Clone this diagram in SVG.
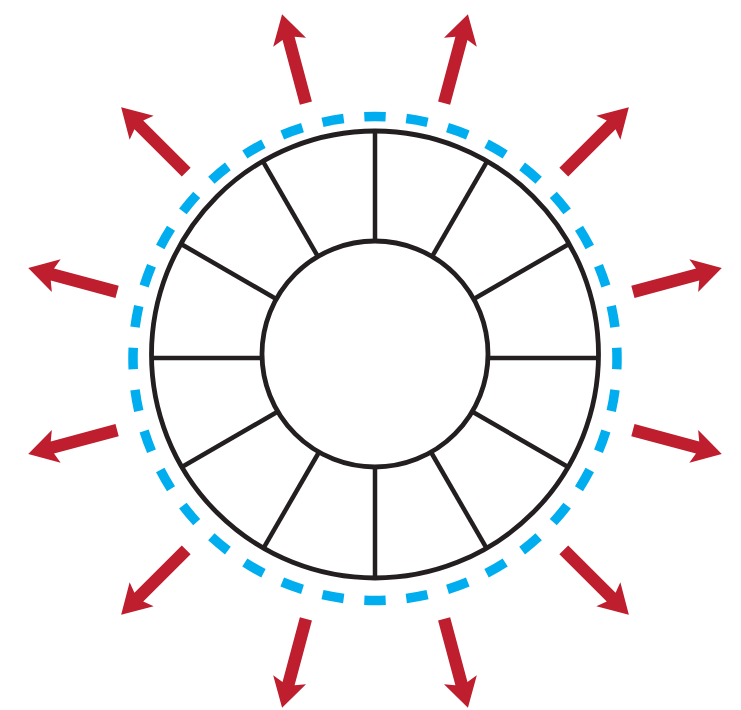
<svg xmlns="http://www.w3.org/2000/svg" xmlns:xlink="http://www.w3.org/1999/xlink" width="741" height="710" viewBox="0 0 741 710">
  <style>
    .ring { fill: none; stroke: #231F20; stroke-width: 4.8; }
    .spoke { stroke: #231F20; stroke-width: 4.5; stroke-linecap: butt; }
    .dash { fill: none; stroke: #00AEEF; stroke-width: 9.5; stroke-dasharray: 5.1 4.9; stroke-dashoffset: 2.55; }
    .arrow { fill: #BE1E2D; }
  </style>
  <defs>
    <path id="arr" class="arrow" d="M0,-6.25 H67 L63,-17 L92,0 L63,17 L67,6.25 H0 Z"/>
  </defs>
  <rect width="741" height="710" fill="#ffffff"/>

  <g id="boundary">
    <circle class="dash" cx="375" cy="358.5" r="242" pathLength="360"/>
  </g>

  <g id="wheel">
    <circle class="ring" cx="375" cy="354.5" r="223.5"/>
    <circle class="ring" cx="375" cy="354" r="113"/>
    <g id="spokes">
      <line class="spoke" x1="375" y1="242" x2="375" y2="132"/>
      <line class="spoke" x1="431.5" y1="257.6" x2="486.5" y2="162.4"/>
      <line class="spoke" x1="472.9" y1="299.5" x2="568.1" y2="244.5"/>
      <line class="spoke" x1="488" y1="358" x2="598" y2="358"/>
      <line class="spoke" x1="472.9" y1="412" x2="568.1" y2="467"/>
      <line class="spoke" x1="431.5" y1="453" x2="486.5" y2="548.2"/>
      <line class="spoke" x1="375" y1="467" x2="375" y2="577"/>
      <line class="spoke" x1="318.5" y1="453" x2="263.5" y2="548.2"/>
      <line class="spoke" x1="277.1" y1="412" x2="181.9" y2="467"/>
      <line class="spoke" x1="262" y1="358" x2="152" y2="358"/>
      <line class="spoke" x1="277.1" y1="299.5" x2="181.9" y2="244.5"/>
      <line class="spoke" x1="318.5" y1="257.6" x2="263.5" y2="162.4"/>
    </g>
  </g>

  <g id="arrows">
    <use xlink:href="#arr" href="#arr" transform="translate(375,361) rotate(-105) translate(267,0)"/>
    <use xlink:href="#arr" href="#arr" transform="translate(375,361) rotate(-75) translate(267,0)"/>
    <use xlink:href="#arr" href="#arr" transform="translate(375,361) rotate(-45) translate(267,0)"/>
    <use xlink:href="#arr" href="#arr" transform="translate(375,361) rotate(-15) translate(267,0)"/>
    <use xlink:href="#arr" href="#arr" transform="translate(375,361) rotate(15) translate(267,0)"/>
    <use xlink:href="#arr" href="#arr" transform="translate(375,361) rotate(45) translate(267,0)"/>
    <use xlink:href="#arr" href="#arr" transform="translate(375,361) rotate(75) translate(267,0)"/>
    <use xlink:href="#arr" href="#arr" transform="translate(375,361) rotate(105) translate(267,0)"/>
    <use xlink:href="#arr" href="#arr" transform="translate(375,361) rotate(135) translate(267,0)"/>
    <use xlink:href="#arr" href="#arr" transform="translate(375,361) rotate(165) translate(267,0)"/>
    <use xlink:href="#arr" href="#arr" transform="translate(375,361) rotate(195) translate(267,0)"/>
    <use xlink:href="#arr" href="#arr" transform="translate(375,361) rotate(225) translate(267,0)"/>
  </g>
</svg>
